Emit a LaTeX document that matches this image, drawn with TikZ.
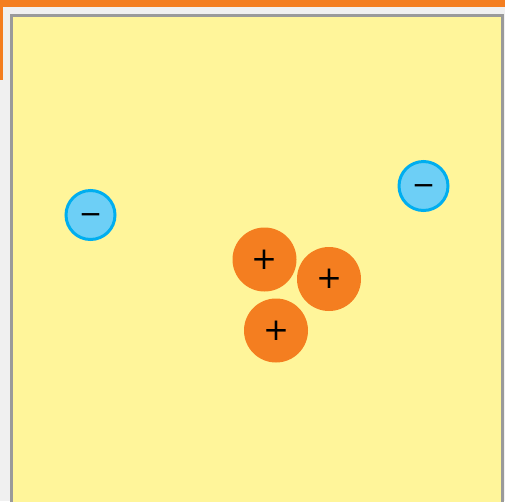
\documentclass[tikz,border=0pt]{standalone}
\usepackage{fontspec}
\setmainfont{DejaVu Sans}
\definecolor{bgc}{HTML}{F0F0F0}
\definecolor{orng}{HTML}{F47E20}
\definecolor{yel}{HTML}{FFF59A}
\definecolor{frame}{HTML}{9A9A9A}
\definecolor{bfill}{HTML}{6DCFF6}
\definecolor{bline}{HTML}{00AEEF}
\newcommand{\negsign}{\raisebox{-3.5pt}[\height][\depth]{−}}
\tikzset{
  poscharge/.style={circle,fill=orng,minimum size=64pt,inner sep=0pt,font=\fontsize{31}{31}\selectfont},
  negcharge/.style={circle,fill=bfill,draw=bline,line width=3pt,minimum size=49pt,inner sep=0pt,font=\fontsize{28}{28}\selectfont}
}
\begin{document}
\begin{tikzpicture}[x=1pt,y=-1pt]
\useasboundingbox (0,0) rectangle (505,501);
\fill[bgc] (0,0) rectangle (505,501);
\fill[orng] (0,0) rectangle (505,7);
\fill[orng] (0,0) rectangle (2.5,80);
\fill[yel] (11.5,15.5) rectangle (502.5,510);
\draw[frame,line width=3pt] (11.5,510) -- (11.5,15.5) -- (502.5,15.5) -- (502.5,510);
\node[negcharge] (n1) at (90.5,215) {\negsign};
\node[negcharge] (n2) at (423.5,186) {\negsign};
\node[poscharge] (p1) at (264.5,259.5) {+};
\node[poscharge] (p2) at (329,279) {+};
\node[poscharge] (p3) at (276,330.5) {+};
\end{tikzpicture}
\end{document}
